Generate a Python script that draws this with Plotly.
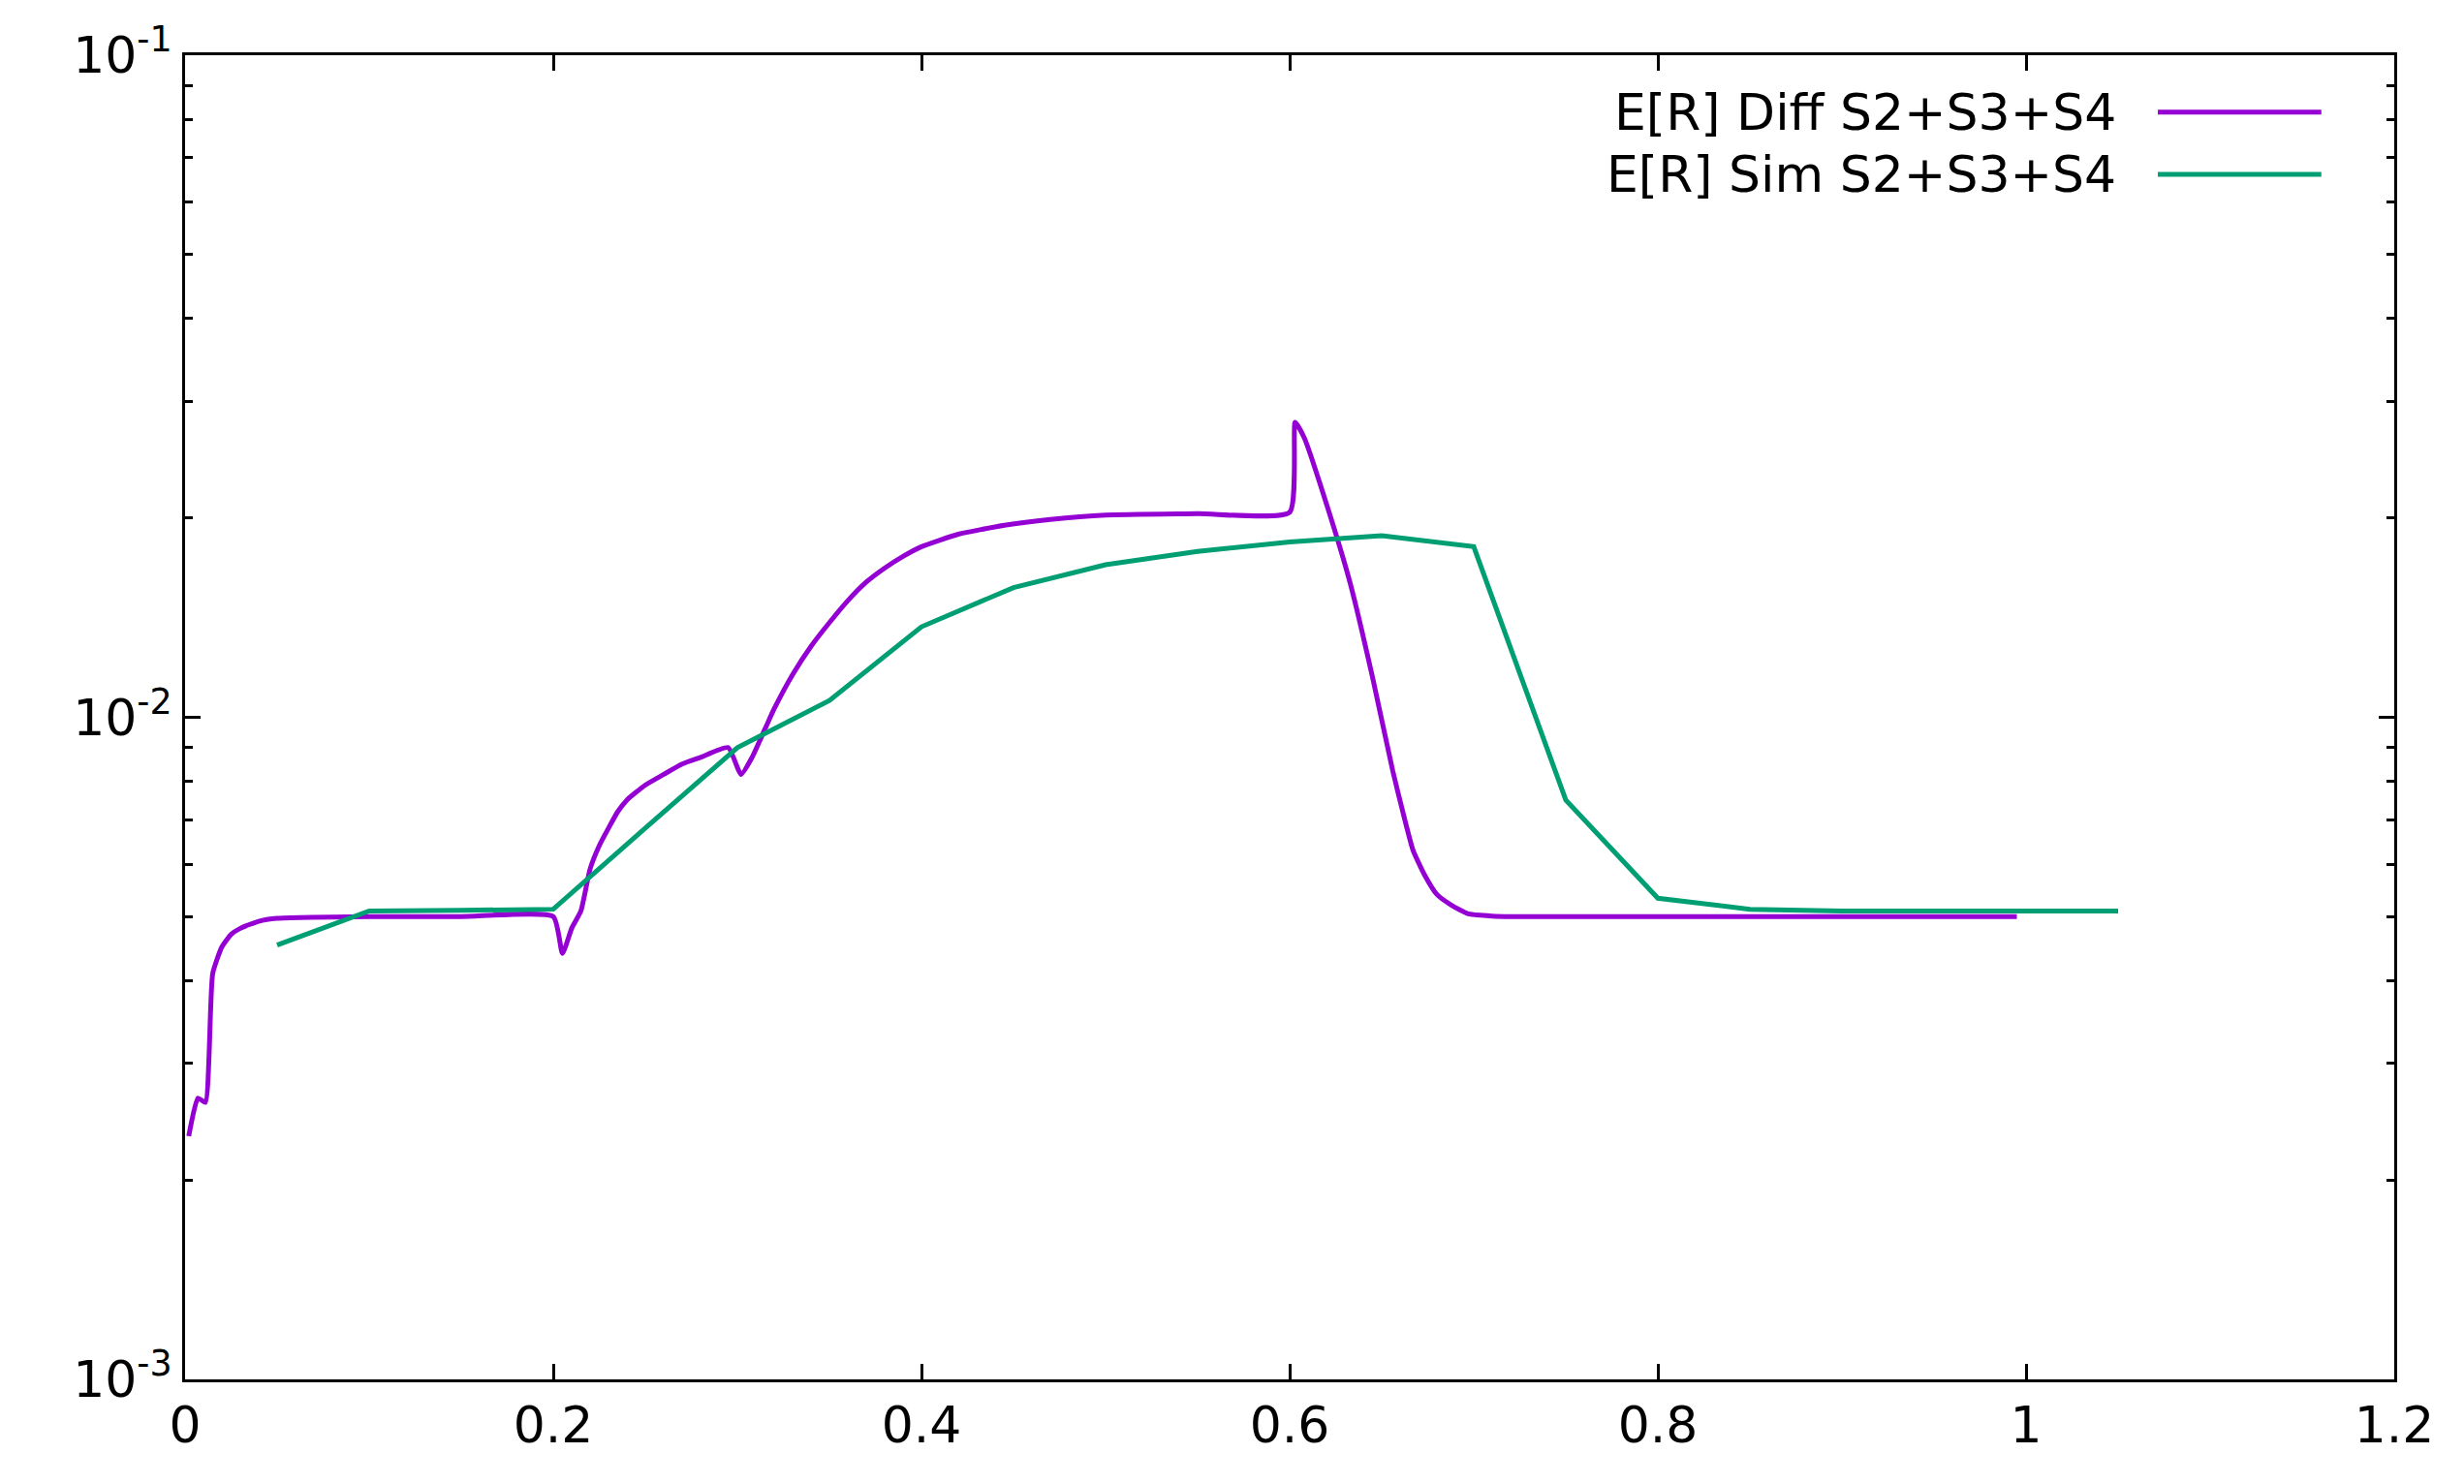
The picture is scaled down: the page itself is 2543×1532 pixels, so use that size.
import plotly.graph_objects as go

diff_x = [0.002, 0.007, 0.011, 0.015, 0.02, 0.025, 0.03, 0.04, 0.05, 0.1, 0.15, 0.2, 0.205, 0.21, 0.215, 0.22, 0.225, 0.23,
          0.235, 0.24, 0.25, 0.26, 0.27, 0.28, 0.295,
          0.302, 0.308, 0.315, 0.32, 0.33, 0.34, 0.35, 0.36, 0.37, 0.38, 0.39, 0.4, 0.42, 0.445, 0.47, 0.5, 0.55, 0.6,
          0.603, 0.608, 0.62, 0.633, 0.645, 0.656, 0.662, 0.667, 0.673, 0.68, 0.688, 0.697, 0.71, 0.72, 0.8, 0.9, 0.995]
diff_y = [0.00233, 0.00266, 0.00262, 0.0041, 0.0045, 0.0047, 0.0048, 0.00492, 0.00497, 0.005, 0.005, 0.005, 0.0044, 0.0048,
          0.0051, 0.0059, 0.0064, 0.0068, 0.0072, 0.0075, 0.0079, 0.0082, 0.0085, 0.0087, 0.0090,
          0.0082, 0.0087, 0.0096, 0.0103, 0.0116, 0.0128, 0.0139, 0.0150, 0.0160, 0.0168, 0.0175, 0.0181,
          0.0189, 0.0195, 0.0199, 0.0202, 0.0203, 0.0204, 0.0279, 0.0264, 0.021, 0.0159, 0.0115, 0.0083, 0.0071,
          0.0063, 0.0058, 0.0054, 0.0052, 0.00505, 0.00501, 0.005, 0.005, 0.005, 0.005]
sim_x = [0.05, 0.1, 0.15, 0.2, 0.25, 0.3, 0.35, 0.4, 0.45, 0.5, 0.55, 0.6, 0.65, 0.7, 0.75, 0.8, 0.85, 0.9, 0.95, 1.0, 1.05]
sim_y = [0.00453, 0.0051, 0.00511, 0.00513, 0.0068, 0.009, 0.0106, 0.0137, 0.0157, 0.017, 0.0178, 0.0184, 0.0188,
         0.0181, 0.0075, 0.00533, 0.00513, 0.0051, 0.0051, 0.0051, 0.0051]
names = ["E[R] Diff S2+S3+S4", "E[R] Sim S2+S3+S4"]
colors = ["#9400d3", "#009e73"]
x_ticks = [0, 0.2, 0.4, 0.6, 0.8, 1, 1.2]
x_labels = ["0", "0.2", "0.4", "0.6", "0.8", "1", "1.2"]
y_ticks = [0.001, 0.01, 0.1]
y_labels = ["10<sup>-3</sup>", "10<sup>-2</sup>", "10<sup>-1</sup>"]

fig = go.Figure()
fig.add_trace(go.Scatter(x=diff_x, y=diff_y, mode="lines", line=dict(color=colors[0], width=5, shape="spline", smoothing=0.5), name=names[0]))
fig.add_trace(go.Scatter(x=sim_x, y=sim_y, mode="lines", line=dict(color=colors[1], width=5), name=names[1]))

font = dict(family="DejaVu Sans", size=52, color="black")
for i, yy in enumerate([0.957, 0.910]):
    fig.add_annotation(xref="paper", yref="paper", x=0.875, y=yy, text=names[i], showarrow=False,
                       xanchor="right", yanchor="middle", font=font)
    fig.add_shape(type="line", xref="paper", yref="paper", x0=0.893, x1=0.967, y0=yy, y1=yy,
                  line=dict(color=colors[i], width=5))

axis_common = dict(showline=True, mirror="allticks", linecolor="black", linewidth=3, ticks="inside",
                   ticklen=16, tickwidth=3, tickcolor="black", showgrid=False, zeroline=False, tickfont=font)
fig.update_xaxes(range=[0, 1.2], tickvals=x_ticks, ticktext=x_labels, **axis_common)
fig.update_yaxes(type="log", range=[-3, -1], tickvals=y_ticks, ticktext=y_labels,
                 minor=dict(ticks="inside", ticklen=8, tickwidth=3, tickcolor="black",
                            tickvals=[k * 10**e for e in (-3, -2) for k in range(2, 10)]),
                 **axis_common)
fig.update_layout(width=2543, height=1532, showlegend=False, plot_bgcolor="white", paper_bgcolor="white",
                  margin=dict(l=183, r=80, t=49, b=116))
fig.write_html("out.html")
